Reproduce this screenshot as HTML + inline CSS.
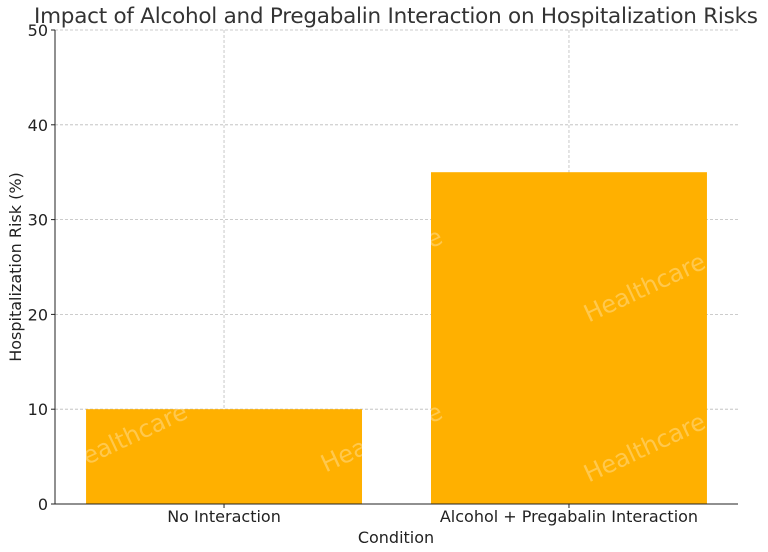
<!DOCTYPE html>
<html><head><meta charset="utf-8"><style>
body{margin:0;background:#fff;}
svg{display:block;font-family:"DejaVu Sans","Liberation Sans",sans-serif;}
</style></head><body>
<svg id="chart" width="768" height="552" xmlns="http://www.w3.org/2000/svg">
<text x="396" y="23" font-size="21.5" fill="#333" text-anchor="middle" textLength="724">Impact of Alcohol and Pregabalin Interaction on Hospitalization Risks</text>
<g id="grid"></g><g id="bars"></g><g id="wm"></g><g id="axes"></g>
<text x="396" y="543" font-size="16" fill="#222" text-anchor="middle">Condition</text>
<text transform="translate(21,267) rotate(-90)" font-size="16" fill="#222" text-anchor="middle">Hospitalization Risk (%)</text>
</svg>
<script>
const categories=["No Interaction","Alcohol + Pregabalin Interaction"];
const values=[10,35];
const yTicks=[0,10,20,30,40,50];
const NS="http://www.w3.org/2000/svg";
const L=55,R=738,T=30,B=504,yMax=50;
const y=v=>B-(v/yMax)*(B-T);
const xMin=-0.49,xMax=1.49;
const x=i=>L+(i-xMin)/(xMax-xMin)*(R-L);
const bw=0.8*(R-L)/(xMax-xMin);
function mk(t,a,p){const e=document.createElementNS(NS,t);for(const k in a)e.setAttribute(k,a[k]);p.appendChild(e);return e;}
const grid=document.getElementById('grid'),bars=document.getElementById('bars'),axes=document.getElementById('axes'),wm=document.getElementById('wm');
values.forEach((v,i)=>{
 const r=mk('rect',{x:x(i)-bw/2,y:y(v),width:bw,height:B-y(v),fill:'#FFB000'},bars);
 
 
});
yTicks.forEach(t=>{
 const g=mk('line',{x1:L,x2:R,y1:y(t),y2:y(t),stroke:'#bbb','stroke-dasharray':'3,2','stroke-width':0.8},grid);
 
 
 mk('line',{x1:L-4,x2:L,y1:y(t),y2:y(t),stroke:'#222'},axes);
 const lb=mk('text',{x:L-7,y:y(t)+6,'font-size':16,fill:'#222','text-anchor':'end'},axes);
 lb.textContent=t;
 
 
});
categories.forEach((c,i)=>{
 const g=mk('line',{x1:x(i),x2:x(i),y1:T,y2:B,stroke:'#bbb','stroke-dasharray':'3,2','stroke-width':0.8},grid);
 
 
 mk('line',{x1:x(i),x2:x(i),y1:B,y2:B+4,stroke:'#222'},axes);
 const lb=mk('text',{x:x(i),y:522,'font-size':16,fill:'#222','text-anchor':'middle'},axes);
 lb.textContent=c;
 
 
});
mk('line',{x1:L,x2:L,y1:T,y2:B,stroke:'#222','stroke-width':1},axes);
mk('line',{x1:L,x2:R,y1:B,y2:B,stroke:'#222','stroke-width':1},axes);
[[130,445],[385,270],[385,445],[648,295],[648,455]].forEach(p=>{
 const w=mk('text',{x:p[0],y:p[1],'font-size':24,fill:'#fff','fill-opacity':0.3,'text-anchor':'middle',transform:`rotate(-25 ${p[0]} ${p[1]})`},wm);
 w.textContent='Healthcare';
 
 
});
</script>
</body></html>
